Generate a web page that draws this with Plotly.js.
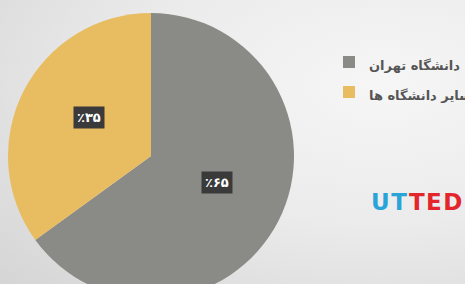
<!DOCTYPE html>
<html>
<head>
<meta charset="utf-8">
<script src="https://cdn.plot.ly/plotly-3.0.1.min.js"></script>
<style>
  html, body { margin: 0; padding: 0; width: 465px; height: 284px; overflow: hidden; }
  body { background: radial-gradient(ellipse 120% 110% at 82% 30%, #f6f6f6 0%, #ebebeb 45%, #d2d2d2 100%); }
  #chart { width: 520px; height: 300px; }
</style>
</head>
<body>
<div id="chart"></div>
<script>
// ---- data ----
const categories = ['دانشگاه تهران', 'سایر دانشگاه ها'];
const values = [65, 35];
const sliceColors = ['#8a8a86', '#e8bd62'];

// ---- helpers ----
const W = 520, H = 300;
const faDigits = ['۰','۱','۲','۳','۴','۵','۶','۷','۸','۹'];
function toFa(n) { return String(n).split('').map(c => /\d/.test(c) ? faDigits[+c] : c).join(''); }

// pie geometry (pixels within the div)
const pieLeft = 8, pieTop = 13, pieSize = 286;
const cx = pieLeft + pieSize / 2, cy = pieTop + pieSize / 2, r = pieSize / 2;

const total = values.reduce((a, b) => a + b, 0);
let cum = 0;
const annotations = values.map((v, i) => {
  const mid = (cum + v / 2) / total * 2 * Math.PI; // clockwise from top
  cum += v;
  const d = 0.5 * r;
  const px = cx + d * Math.sin(mid) + 2;
  const py = cy - d * Math.cos(mid) - 6;
  return {
    xref: 'paper', yref: 'paper',
    x: px / W, y: 1 - py / H,
    xanchor: 'center', yanchor: 'middle',
    text: '٪' + toFa(Math.round(v / total * 100)),
    showarrow: false,
    font: { family: 'DejaVu Sans', size: 13, color: '#ffffff', weight: 'bold' },
    bgcolor: '#3a3a3a',
    borderpad: 3
  };
});

// logo text
annotations.push({
  xref: 'paper', yref: 'paper',
  x: 369 / W, y: 1 - 202 / H,
  xanchor: 'left', yanchor: 'middle',
  text: '<span style="color:#2aa3d9;letter-spacing:1.5px">UT</span><span style="color:#e2262c;letter-spacing:1.5px">TED</span>',
  showarrow: false,
  font: { family: 'DejaVu Sans', size: 23, weight: 'bold' }
});

const trace = {
  type: 'pie',
  labels: categories.map(c => '<span style="font-size:13px;font-weight:bold">' + c + '</span>'),
  values: values,
  sort: false,
  direction: 'clockwise',
  rotation: 0,
  textinfo: 'none',
  hoverinfo: 'none',
  marker: { colors: sliceColors, line: { width: 0 } },
  domain: { x: [pieLeft / W, (pieLeft + pieSize) / W], y: [1 - (pieTop + pieSize) / H, 1 - pieTop / H] }
};

const layout = {
  width: W, height: H,
  margin: { l: 0, r: 0, t: 0, b: 0 },
  paper_bgcolor: 'rgba(0,0,0,0)',
  plot_bgcolor: 'rgba(0,0,0,0)',
  showlegend: true,
  legend: {
    x: 329 / W, y: 1 - 42 / H,
    xanchor: 'left', yanchor: 'top',
    bgcolor: 'rgba(0,0,0,0)',
    font: { family: 'DejaVu Sans', size: 20.77, color: '#555555' }
  },
  annotations: annotations
};

Plotly.newPlot('chart', [trace], layout, { displayModeBar: false, staticPlot: true });
</script>
</body>
</html>
